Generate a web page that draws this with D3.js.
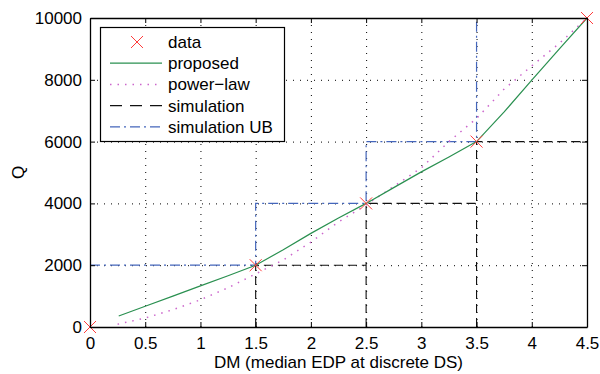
<!DOCTYPE html>
<html>
<head>
<meta charset="utf-8">
<script src="https://cdn.jsdelivr.net/npm/d3@7"></script>
<style>
  body { margin: 0; background: #fff; }
  text { font-family: "Liberation Sans", Arial, Helvetica, sans-serif; fill: #000; }
</style>
</head>
<body>
<svg id="chart" width="600" height="374"></svg>
<script>
// data points
const dataX = [0, 1.5, 2.5, 3.5, 4.5];
const dataY = [0, 2000, 4000, 6000, 10000];

// proposed curve
const propX = [0.26, 0.5, 0.75, 1.0, 1.25, 1.5, 1.75, 2.0, 2.25, 2.5, 2.75, 3.0, 3.25, 3.5, 3.75, 4.0, 4.25, 4.5];
const propY = [356, 670, 1000, 1330, 1660, 2000, 2500, 3030, 3530, 4000, 4510, 5020, 5500, 6000, 6960, 7990, 9000, 10000];

// power-law fit
const powX = [0.25, 0.5, 0.75, 1.0, 1.25, 1.5, 1.75, 2.0, 2.25, 2.5, 2.75, 3.0, 3.25, 3.5, 3.75, 4.0, 4.25, 4.5];
const powY = [90, 290, 560, 880, 1270, 1720, 2170, 2750, 3400, 3950, 4550, 5150, 6000, 6750, 7700, 8450, 9180, 10000];

// simulation (null = break)
const simX = [1.5, 1.5, 2.5, null, 2.5, 2.5, 3.5, null, 3.5, 3.5, 4.5];
const simY = [0, 2000, 2000, null, 0, 4000, 4000, null, 0, 6000, 6000];

// simulation upper bound
const ubX = [0, 1.5, 1.5, 2.5, 2.5, 3.5, 3.5, 4.5];
const ubY = [2000, 2000, 4000, 4000, 6000, 6000, 10000, 10000];

const xTicks = [0, 0.5, 1, 1.5, 2, 2.5, 3, 3.5, 4, 4.5];
const yTicks = [0, 2000, 4000, 6000, 8000, 10000];

const legendNames = ["data", "proposed", "power\u2212law", "simulation", "simulation UB"];

const svg = d3.select("#chart");
const mLeft = 90, mRight = 587, mTop = 18, mBottom = 327;

const x = d3.scaleLinear().domain([0, 4.5]).range([mLeft, mRight]);
const y = d3.scaleLinear().domain([0, 10000]).range([mBottom, mTop]);

// grid
const grid = svg.append("g").attr("stroke", "#000").attr("stroke-width", 1).attr("stroke-dasharray", "1,6");
grid.selectAll(".gx").data(xTicks.slice(1, -1)).enter().append("line")
  .attr("x1", d => x(d) + 0.5).attr("x2", d => x(d) + 0.5)
  .attr("y1", mTop).attr("y2", mBottom);
grid.selectAll(".gy").data(yTicks.slice(1, -1)).enter().append("line")
  .attr("y1", d => y(d) + 0.5).attr("y2", d => y(d) + 0.5)
  .attr("x1", mLeft).attr("x2", mRight);

svg.append("clipPath").attr("id", "clip").append("rect")
  .attr("x", mLeft).attr("y", mTop).attr("width", mRight - mLeft).attr("height", mBottom - mTop);

const plot = svg.append("g").attr("clip-path", "url(#clip)");

const line = d3.line()
  .defined(d => d[0] !== null)
  .x(d => x(d[0])).y(d => y(d[1]));
const zip = (a, b) => a.map((v, i) => [v, b[i]]);

plot.append("path").attr("d", line(zip(simX, simY)))
  .attr("fill", "none").attr("stroke", "#111").attr("stroke-width", 1.1).attr("stroke-dasharray", "9,5");

plot.append("path").attr("d", line(zip(ubX, ubY)))
  .attr("fill", "none").attr("stroke", "#4466bb").attr("stroke-width", 1.2).attr("stroke-dasharray", "10,4,2,4");

plot.append("path").attr("d", line(zip(powX, powY)))
  .attr("fill", "none").attr("stroke", "#cc66cc").attr("stroke-width", 1.5).attr("stroke-dasharray", "1.5,6");

plot.append("path").attr("d", line(zip(propX, propY)))
  .attr("fill", "none").attr("stroke", "#2a9050").attr("stroke-width", 1.2);

// markers
const cross = (g, cx, cy, s) => {
  g.append("path").attr("d", `M${cx - s},${cy - s}L${cx + s},${cy + s}M${cx - s},${cy + s}L${cx + s},${cy - s}`)
    .attr("stroke", "#ff3b3b").attr("stroke-width", 1).attr("fill", "none");
};
const markers = svg.append("g");
dataX.forEach((d, i) => cross(markers, x(d), y(dataY[i]), 6));

// axes frame
const axB = d3.axisBottom(x).tickValues(xTicks).tickFormat(d3.format("")).tickSizeInner(-5).tickSizeOuter(0).tickPadding(10);
const axL = d3.axisLeft(y).tickValues(yTicks).tickFormat(d3.format("d")).tickSizeInner(-5).tickSizeOuter(0).tickPadding(8);
const axT = d3.axisTop(x).tickValues(xTicks).tickFormat("").tickSizeInner(-5).tickSizeOuter(0);
const axR = d3.axisRight(y).tickValues(yTicks).tickFormat("").tickSizeInner(-5).tickSizeOuter(0);

const styleAxis = g => {
  g.select(".domain").attr("stroke", "#000").attr("stroke-width", 1.3);
  g.selectAll(".tick line").attr("stroke", "#000").attr("stroke-width", 1);
  g.selectAll("text").attr("font-size", 17).attr("font-family", "Liberation Sans, Arial, sans-serif").attr("fill", "#000");
};
svg.append("g").attr("transform", `translate(0,${mBottom})`).call(axB).call(styleAxis);
svg.append("g").attr("transform", `translate(${mLeft},0)`).call(axL).call(styleAxis);
svg.append("g").attr("transform", `translate(0,${mTop})`).call(axT).call(styleAxis);
svg.append("g").attr("transform", `translate(${mRight},0)`).call(axR).call(styleAxis);

// axis labels
svg.append("text").attr("x", (mLeft + mRight) / 2).attr("y", 368).attr("text-anchor", "middle")
  .attr("font-size", 17).text("DM (median EDP at discrete DS)");
svg.append("text").attr("transform", `translate(24,${(mTop + mBottom) / 2}) rotate(-90)`).attr("text-anchor", "middle")
  .attr("font-size", 17).text("Q");

// legend
const lg = svg.append("g");
lg.append("rect").attr("x", 100.5).attr("y", 27.5).attr("width", 184).attr("height", 114)
  .attr("fill", "#fff").attr("stroke", "#000").attr("stroke-width", 1.2);
const rowY = i => 42 + i * 21.2;
legendNames.forEach((n, i) => {
  lg.append("text").attr("x", 168).attr("y", rowY(i)).attr("dy", "0.35em").attr("font-size", 17).text(n);
});
cross(lg, 137, rowY(0), 6);
const sample = (i, stroke, w, dash) => lg.append("line")
  .attr("x1", 110).attr("x2", 162).attr("y1", rowY(i)).attr("y2", rowY(i))
  .attr("stroke", stroke).attr("stroke-width", w).attr("stroke-dasharray", dash);
sample(1, "#2a9050", 1.2, null);
sample(2, "#cc66cc", 1.5, "1.5,6");
sample(3, "#111", 1.1, "12,8");
sample(4, "#4466bb", 1.2, "10,4,2,4");
</script>
</body>
</html>
